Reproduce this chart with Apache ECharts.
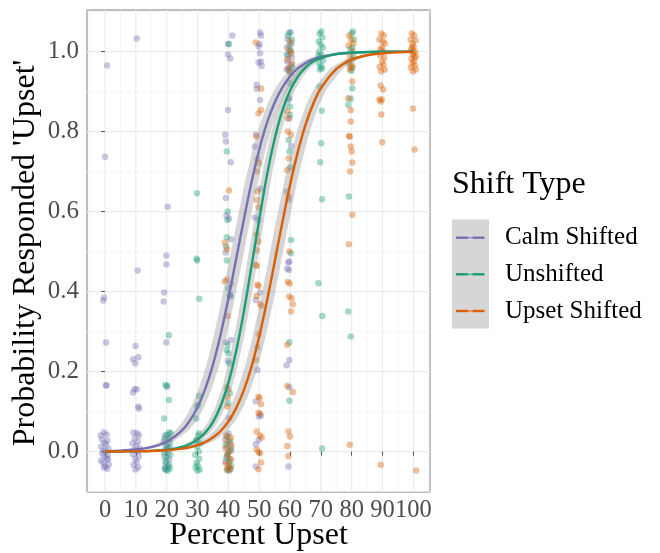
<!DOCTYPE html>
<html><head><meta charset="utf-8">
<script src="https://cdn.jsdelivr.net/npm/echarts@6/dist/echarts.min.js"></script>
</head>
<body style="margin:0;background:#fff">
<div id="c" style="width:660px;height:553px"></div>
<script>
// ---------- data ----------
const xTicks = [0,10,20,30,40,50,60,70,80,90,100];
const yTicks = [0,0.2,0.4,0.6,0.8,1.0];
const xMinor = [-5,5,15,25,35,45,55,65,75,85,95,105];
const yMinor = [-0.1,0.1,0.3,0.5,0.7,0.9,1.1];
const groups = ['Calm Shifted','Unshifted','Upset Shifted'];

const curveX = [0,5,10,15,20,25,27.5,30,32.5,35,37.5,40,42.5,45,47.5,50,52.5,55,57.5,60,62.5,65,67.5,70,75,80,85,90,95,100];
const calmFit = [0.001,0.0023,0.0051,0.0112,0.0246,0.0532,0.0773,0.111,0.157,0.217,0.293,0.382,0.480,0.579,0.673,0.754,0.821,0.872,0.910,0.938,0.958,0.971,0.981,0.987,0.994,0.997,0.9988,0.9995,0.9998,0.9999];
const unshiftedFit = [0.0001,0.0003,0.0007,0.0018,0.0046,0.0118,0.0189,0.0299,0.0474,0.0739,0.114,0.171,0.250,0.348,0.463,0.579,0.690,0.781,0.852,0.902,0.937,0.960,0.975,0.984,0.9937,0.9976,0.9991,0.9996,0.9999,1.0];
const upsetFit = [0.0001,0.0003,0.0007,0.0015,0.0033,0.0073,0.0109,0.0161,0.0239,0.0352,0.0516,0.0751,0.108,0.153,0.212,0.287,0.375,0.473,0.572,0.666,0.748,0.816,0.869,0.908,0.956,0.980,0.991,0.9959,0.9981,0.9992];
// confidence band half-width, in x units (percent upset)
const calmBand = 2.1, unshiftedBand = 1.6, upsetBand = 2.1;

const calmPts = [
[0.7,0.965],[0,0.737],[-0.3,0.385],[-0.6,0.378],[0.3,0.273],[0.3,0.166],[0.5,0.165],
[-0.4,0.048],[0.5,0.043],[-1.0,0.03],[0.8,0.028],[-0.2,0.022],[0.3,0.018],[-1.2,0.012],[1.1,0.008],[-0.5,0.003],[0.2,0.0],[-0.9,-0.005],[0.9,-0.008],[-0.1,-0.012],[0.6,-0.018],[-1.3,-0.022],[-0.6,-0.028],[1.2,-0.032],[0.1,-0.036],[-0.3,-0.04],[0.7,-0.043],[1.0,-0.02],[-1.4,0.04],
[10.3,1.033],[10.6,0.453],[9.9,0.264],[9.1,0.231],[10.8,0.236],[9.8,0.221],[9.6,0.156],[10.3,0.156],[9.1,0.148],[10.8,0.112],[11.0,0.108],
[9.2,0.048],[10.4,0.046],[11.0,0.04],[9.6,0.033],[10.7,0.025],[8.9,0.02],[10.1,0.015],[11.2,0.008],[9.4,0.004],[10.6,0.0],[9.0,-0.006],[10.9,-0.012],[9.8,-0.018],[10.3,-0.026],[9.3,-0.033],[10.8,-0.04],[9.9,-0.045],
[20.3,0.612],[19.9,0.49],[19.9,0.468],[19.2,0.398],[19.0,0.375],[19.9,0.273],[20.0,0.162],
[19.5,0.04],[20.6,0.035],[19.1,0.025],[20.2,0.018],[21.0,0.01],[19.7,0.005],[20.4,-0.003],[19.3,-0.012],[20.8,-0.02],[19.8,-0.03],[20.5,-0.038],[19.4,-0.045],
[41.3,1.04],[39.9,1.019],[39.9,0.993],[40.6,0.983],[39.9,0.854],[39.0,0.792],[39.2,0.775],[40.8,0.7235],[39.2,0.634],[39.4,0.59],[40.2,0.583],[40.8,0.531],[39.1,0.498],[40.9,0.419],[40.5,0.393],[40.6,0.388],[39.2,0.2735],[40.9,0.279],[39.8,0.227],[40.3,0.0835],
[40.1,0.045],[39.0,0.03],[40.6,0.02],[39.5,0.012],[40.9,0.003],[39.8,-0.008],[40.4,-0.018],[39.1,-0.025],[40.0,-0.04],[40.6,-0.045],
[50.3,1.048],[50.6,1.04],[50.1,1.019],[49.8,1.0125],[50.3,0.996],[50.6,0.975],[49.8,0.9725],[50.8,0.964],[49.2,0.917],[49.2,0.907],[50.3,0.879],[48.9,0.792],[48.6,0.7625],[50.3,0.657],[48.6,0.585],[49.8,0.579],[50.3,0.3975],[48.9,0.379],[49.4,0.261],[49.4,0.204],[48.9,0.125],[50.6,0.09],[49.9,0.088],[49.8,0.029],[48.9,0.0185],[48.9,-0.0375],
[60.2,1.048],[59.3,1.03],[60.5,1.02],[59.0,1.01],[60.0,1.0],[59.4,0.99],[60.6,0.985],[59.1,0.975],[60.3,0.968],[59.7,0.96],[58.9,0.955],[60.1,0.95],[59.8,0.8835],[59.8,0.8335],[60.3,0.764],[58.9,0.65],[59.6,0.63],[59.8,0.475],[59.1,0.457],[59.4,0.4725],[59.7,0.454],[59.8,0.229],[58.9,0.216],[59.8,0.161],[59.5,-0.0375]
];
const unshiftedPts = [
[20.7,0.291],[19.6,0.167],[20.2,0.164],[20.7,0.129],[19.2,0.083],
[20.9,0.048],[21.3,0.045],[20.1,0.042],[19.4,0.033],[20.7,0.03],[21.1,0.022],[19.8,0.012],[20.5,0.008],[19.2,-0.002],[21.2,-0.008],[20.0,-0.015],[19.6,-0.025],[20.8,-0.032],[21.0,-0.042],[19.9,-0.045],[20.3,-0.048],[19.5,-0.04],
[29.8,0.646],[29.7,0.482],[29.9,0.478],[30.6,0.382],[30.5,0.139],[29.8,0.1125],[30.2,0.117],[29.6,0.083],[30.5,0.046],[29.9,0.029],
[30.2,0.04],[29.5,0.028],[30.8,0.02],[29.9,0.012],[30.4,0.0],[29.3,-0.008],[30.6,-0.018],[29.7,-0.028],[30.1,-0.035],[29.4,-0.04],[30.7,-0.045],[30.0,-0.048],
[40.2,1.019],[39.5,0.75],[39.8,0.6],[39.7,0.579],[39.5,0.536],[39.2,0.5125],[39.5,0.4775],[40.0,0.4085],[40.6,0.39],[39.8,0.267],[39.5,0.254],[40.0,0.246],[40.2,0.221],[40.5,0.146],[40.0,0.121],
[39.6,0.038],[40.5,0.028],[39.2,0.018],[40.8,0.008],[39.9,-0.002],[39.4,-0.015],[40.3,-0.025],[40.9,-0.035],[39.7,-0.044],[40.2,-0.048],
[59.8,1.048],[59.3,1.04],[60.6,1.03],[59.9,1.015],[60.3,1.002],[59.0,0.992],[60.7,0.96],[59.6,0.952],[60.0,0.921],[59.4,0.88],[60.0,0.8625],[60.0,0.842],[59.6,0.779],[59.8,0.75],[60.0,0.71],[60.3,0.529],[60.3,0.496],[59.8,0.2735],[59.8,0.127],
[70.2,1.05],[69.6,1.045],[70.5,1.035],[69.3,1.025],[70.0,1.018],[70.6,1.01],[69.5,1.0],[70.2,0.992],[69.8,0.985],[70.7,0.978],[69.4,0.97],[70.1,0.963],[69.7,0.955],[70.4,0.958],[69.2,0.99],[69.6,0.9125],[70.3,0.852],[70.1,0.771],[69.8,0.7235],[70.4,0.631],[69.2,0.421],[70.5,0.339],[70.4,0.0075],
[80.4,1.05],[80.0,1.045],[80.7,1.03],[80.2,1.01],[79.6,1.005],[80.5,0.99],[80.0,0.98],[79.2,0.97],[80.3,0.96],[79.9,0.952],[80.2,0.9085],[79.7,0.882],[78.9,0.867],[79.1,0.6375],[78.9,0.35],[79.7,0.2875]
];
const upsetPts = [
[40.2,0.6525],[38.9,0.5225],[39.6,0.506],[39.5,0.43],[38.9,0.425],[39.8,0.339],[39.5,0.161],[40.0,0.155],[39.8,0.135],[39.7,0.113],
[39.3,0.04],[40.8,0.035],[39.8,0.025],[41.0,0.015],[39.1,0.008],[40.4,0.0],[39.6,-0.01],[40.9,-0.02],[39.2,-0.03],[40.2,-0.035],[40.7,-0.042],[39.5,-0.046],
[48.9,1.0225],[50.6,0.9075],[50.6,0.854],[49.8,0.846],[49.2,0.7875],[49.4,0.731],[49.9,0.721],[49.2,0.70],[49.4,0.65],[49.2,0.629],[49.8,0.611],[49.2,0.542],[49.8,0.525],[49.2,0.5025],[48.9,0.467],[49.2,0.464],[49.4,0.417],[49.8,0.414],[49.2,0.389],[50.3,0.369],[50.8,0.364],[49.9,0.294],[48.9,0.229],[49.8,0.137],[50.1,0.134],[50.6,0.119],[49.8,0.097],[50.3,0.094],[49.2,0.05],[50.3,0.04],[50.8,0.035],[49.8,-0.001],[49.2,0.005],[50.3,-0.004],[50.6,-0.0275],[49.8,-0.044],
[60.0,1.025],[59.6,1.005],[60.4,0.995],[59.2,0.98],[60.7,0.97],[59.5,0.958],[60.2,0.945],[59.1,0.85],[59.3,0.833],[59.3,0.80],[60.3,0.792],[59.6,0.7335],[59.1,0.704],[59.6,0.6375],[59.8,0.5],[59.3,0.424],[59.9,0.42],[59.7,0.3875],[60.5,0.3835],[60.9,0.3685],[60.3,0.35],[59.1,0.267],[59.1,0.164],[60.9,0.149],[59.5,0.05],[60.0,0.0375],[59.1,0.014],[59.5,-0.011],
[79.2,1.04],[79.8,1.03],[79.0,1.015],[80.3,1.0],[79.5,0.99],[78.9,0.975],[80.1,0.965],[79.4,0.955],[80.5,1.02],[79.7,0.96],[80.2,0.925],[78.9,0.8835],[79.7,0.854],[79.7,0.825],[79.1,0.789],[79.4,0.787],[79.7,0.7625],[80.0,0.75],[80.2,0.7225],[79.5,0.70],[80.2,0.592],[79.1,0.5185],[79.4,0.017],
[89.6,1.045],[90.4,1.04],[89.0,1.03],[90.8,1.02],[89.8,1.01],[90.2,1.0],[89.3,0.99],[90.6,0.985],[89.9,0.975],[90.3,0.968],[89.1,0.962],[90.7,0.955],[89.6,0.95],[90.1,1.025],[89.4,1.005],[89.4,0.915],[90.2,0.905],[89.0,0.88],[89.8,0.88],[89.4,0.875],[89.6,0.843],[89.9,0.7735],[89.4,-0.033],
[99.5,1.045],[100.3,1.04],[99.1,1.03],[100.7,1.028],[99.8,1.02],[100.1,1.012],[99.3,1.005],[100.6,1.0],[99.9,0.993],[100.9,0.988],[99.4,0.982],[100.2,0.976],[99.7,0.97],[100.5,0.965],[99.2,0.96],[100.8,0.955],[99.9,0.95],[100.3,0.985],[99.6,1.01],[100.0,0.998],[99.9,0.8575],[100.4,0.755],[100.9,-0.0475]
];

// ---------- style ----------
const COLORS = ['#7570B3','#1B9E77','#D95F02'];
const SERIF = "'Liberation Serif','DejaVu Serif',serif";
const X_MIN = -5.84, X_MAX = 105.41, Y_MIN = -0.101, Y_MAX = 1.104;

const chart = echarts.init(document.getElementById('c'), null, {renderer:'canvas'});

const gridData = []
  .concat(xTicks.map(v => [v, 0]))
  .concat(xMinor.map(v => [v, 1]))
  .concat(yTicks.map(v => [v, 2]))
  .concat(yMinor.map(v => [v, 3]));

function gridSeries() {
  return {
    type: 'custom', silent: true, z: 0, clip: true,
    data: gridData,
    renderItem: function (params, api) {
      const v = api.value(0), k = api.value(1);
      let p1, p2;
      if (k < 2) { p1 = api.coord([v, Y_MIN]); p2 = api.coord([v, Y_MAX]); }
      else { p1 = api.coord([X_MIN, v]); p2 = api.coord([X_MAX, v]); }
      const major = (k % 2 === 0);
      return { type: 'line', shape: {x1:p1[0], y1:p1[1], x2:p2[0], y2:p2[1]},
        style: { stroke: major ? '#EBEBEB' : '#F2F2F2', lineWidth: major ? 1.2 : 0.7 } };
    }
  };
}

function bandSeries(fit, w) {
  return {
    type: 'custom', silent: true, z: 3, clip: true,
    data: [[50, 0.5]],
    renderItem: function (params, api) {
      const pts = [];
      for (let i = 0; i < curveX.length; i++) pts.push(api.coord([Math.max(0, curveX[i] - w), fit[i]]));
      for (let i = curveX.length - 1; i >= 0; i--) pts.push(api.coord([Math.min(100, curveX[i] + w), fit[i]]));
      return { type: 'polygon', shape: { points: pts, smooth: 0.15 },
        style: { fill: 'rgba(153,153,153,0.4)' } };
    }
  };
}

function lineSeries(name, fit, color) {
  return {
    name: name, type: 'line', z: 5, silent: true, smooth: 0.3,
    showSymbol: false, symbol: 'none',
    data: curveX.map((x, i) => [x, fit[i]]),
    lineStyle: { color: color, width: 2.4 }
  };
}

function pointSeries(name, pts, color) {
  return {
    name: name, type: 'scatter', z: 2, silent: true,
    symbolSize: 6.5, data: pts,
    itemStyle: { color: color, opacity: 0.4 }
  };
}

// legend + titles as graphics
const els = [];
els.push({ type: 'text', x: 452, y: 185,
  style: { text: 'Shift Type', font: '32px ' + SERIF, fill: '#000', verticalAlign: 'middle', textVerticalAlign: 'middle' } });
els.push({ type: 'rect', shape: { x: 452, y: 219.5, width: 37, height: 109 },
  style: { fill: '#D6D6D6' } });
const keyY = [237.7, 274.3, 311];
groups.forEach((g, i) => {
  els.push({ type: 'line', shape: { x1: 456, y1: keyY[i], x2: 484.5, y2: keyY[i] },
    style: { stroke: COLORS[i], lineWidth: 2.4 } });
  els.push({ type: 'circle', shape: { cx: 470.2, cy: keyY[i], r: 2.6 },
    style: { fill: 'rgba(255,255,255,0.35)' } });
  els.push({ type: 'text', x: 505, y: keyY[i],
    style: { text: g, font: '25px ' + SERIF, fill: '#000', verticalAlign: 'middle', textVerticalAlign: 'middle' } });
});
els.push({ type: 'text', x: 258.5, y: 536,
  style: { text: 'Percent Upset', font: '32px ' + SERIF, fill: '#000', align: 'center', textAlign: 'center', verticalAlign: 'middle', textVerticalAlign: 'middle' } });
els.push({ type: 'text', x: 26, y: 253, rotation: Math.PI / 2,
  style: { text: "Probability Responded 'Upset'", font: '32px ' + SERIF, fill: '#000', align: 'center', textAlign: 'center', verticalAlign: 'middle', textVerticalAlign: 'middle' } });

chart.setOption({
  animation: false,
  backgroundColor: '#ffffff',
  grid: { left: 87, top: 10, width: 343, height: 482, show: true, borderColor: '#7F7F7F', borderWidth: 1, backgroundColor: '#ffffff', containLabel: false },
  xAxis: {
    type: 'value', min: X_MIN, max: X_MAX,
    axisLine: { show: false },
    axisTick: { show: true, customValues: xTicks, length: 4, lineStyle: { color: '#555555', width: 1 } },
    axisLabel: { customValues: xTicks, color: '#4D4D4D', fontSize: 24.5, fontFamily: SERIF, margin: 6,
      hideOverlap: false, showMinLabel: true, showMaxLabel: true, interval: 0 },
    splitLine: { show: false }
  },
  yAxis: {
    type: 'value', min: Y_MIN, max: Y_MAX,
    axisLine: { show: false },
    axisTick: { show: true, customValues: yTicks, length: 4, lineStyle: { color: '#555555', width: 1 } },
    axisLabel: { customValues: yTicks, color: '#4D4D4D', fontSize: 25, fontFamily: SERIF, margin: 8,
      hideOverlap: false, formatter: v => Number(v).toFixed(1) },
    splitLine: { show: false }
  },
  graphic: els,
  series: [
    gridSeries(),
    pointSeries(groups[0], calmPts, COLORS[0]),
    pointSeries(groups[1], unshiftedPts, COLORS[1]),
    pointSeries(groups[2], upsetPts, COLORS[2]),
    bandSeries(calmFit, calmBand),
    bandSeries(unshiftedFit, unshiftedBand),
    bandSeries(upsetFit, upsetBand),
    lineSeries(groups[0], calmFit, COLORS[0]),
    lineSeries(groups[1], unshiftedFit, COLORS[1]),
    lineSeries(groups[2], upsetFit, COLORS[2])
  ]
});
</script>
</body></html>
